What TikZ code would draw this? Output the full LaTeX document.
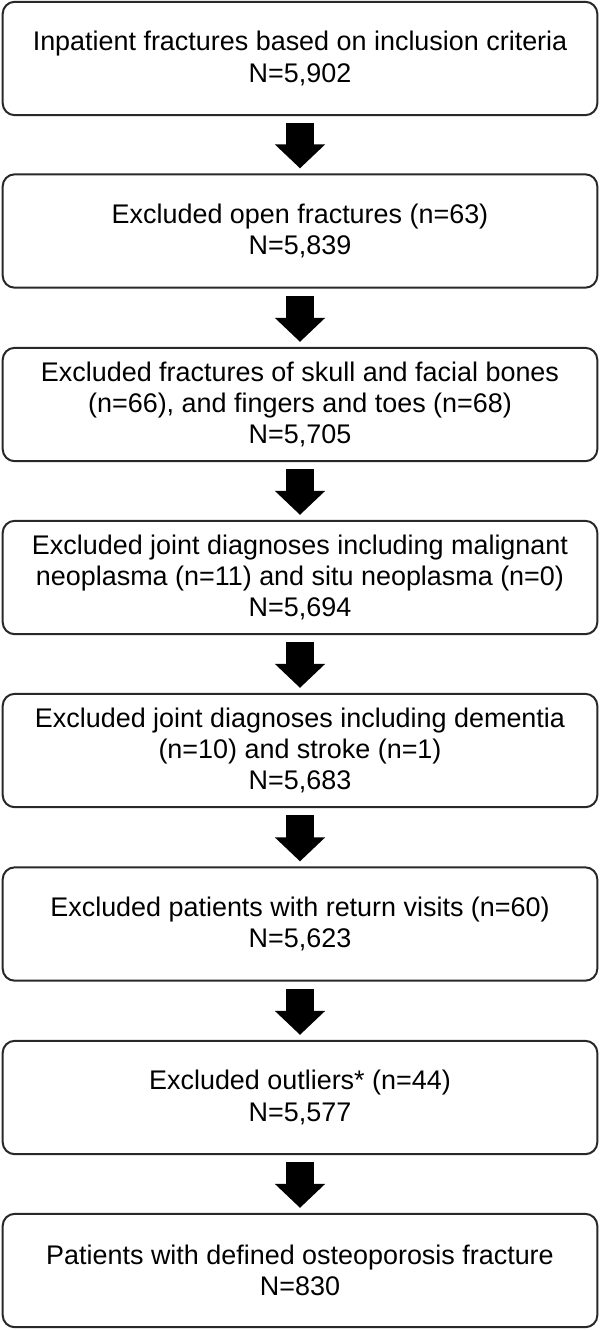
\documentclass[tikz,border=0pt]{standalone}
\usepackage{fontspec}
\setmainfont{Liberation Sans}
\usetikzlibrary{arrows.meta}

\tikzset{every picture/.style={line width=0.75pt}}
\tikzset{
  stepbox/.style={draw={rgb,255:red,40;green,40;blue,40}, line width=1.5, rounded corners=9,
    minimum width=446, minimum height=85, inner sep=0, align=center,
    font=\fontsize{20.2}{23.5}\selectfont},
  downarrow/.style={line width=21, -{Triangle[width=36.75pt,length=18pt]},
    shorten <=5.25, shorten >=3.75}
}

\begin{document}
\begin{tikzpicture}[x=0.75pt,y=0.75pt,yscale=-1,xscale=1]
	%set diagram left start at 0, and has height of 1330
	\useasboundingbox (0,0) rectangle (600,1330);
	
	%Rounded Rect (inclusion)
	\node[stepbox] (incl) at (300,58.5) {Inpatient fractures based on inclusion criteria\\N=5,902};
	%Rounded Rect (open fractures)
	\node[stepbox] (openfx) at (300,231) {Excluded open fractures (n=63)\\N=5,839};
	%Rounded Rect (skull, fingers)
	\node[stepbox] (skull) at (300,404.5) {Excluded fractures of skull and facial bones\\(n=66), and fingers and toes (n=68)\\N=5,705};
	%Rounded Rect (neoplasma)
	\node[stepbox] (neopl) at (300,577.5) {Excluded joint diagnoses including malignant\\neoplasma (n=11) and situ neoplasma (n=0)\\N=5,694};
	%Rounded Rect (dementia, stroke)
	\node[stepbox] (dement) at (300,750.5) {Excluded joint diagnoses including dementia\\(n=10) and stroke (n=1)\\N=5,683};
	%Rounded Rect (return visits)
	\node[stepbox] (revisit) at (300,924) {Excluded patients with return visits (n=60)\\N=5,623};
	%Rounded Rect (outliers)
	\node[stepbox] (outlier) at (300,1097.5) {Excluded outliers* (n=44)\\N=5,577};
	%Rounded Rect (final)
	\node[stepbox] (final) at (300,1270.5) {Patients with defined osteoporosis fracture\\N=830};
	
	%Block Arrows
	\draw[downarrow] (incl) -- (openfx);
	\draw[downarrow] (openfx) -- (skull);
	\draw[downarrow] (skull) -- (neopl);
	\draw[downarrow] (neopl) -- (dement);
	\draw[downarrow] (dement) -- (revisit);
	\draw[downarrow] (revisit) -- (outlier);
	\draw[downarrow] (outlier) -- (final);
	
\end{tikzpicture}
\end{document}
